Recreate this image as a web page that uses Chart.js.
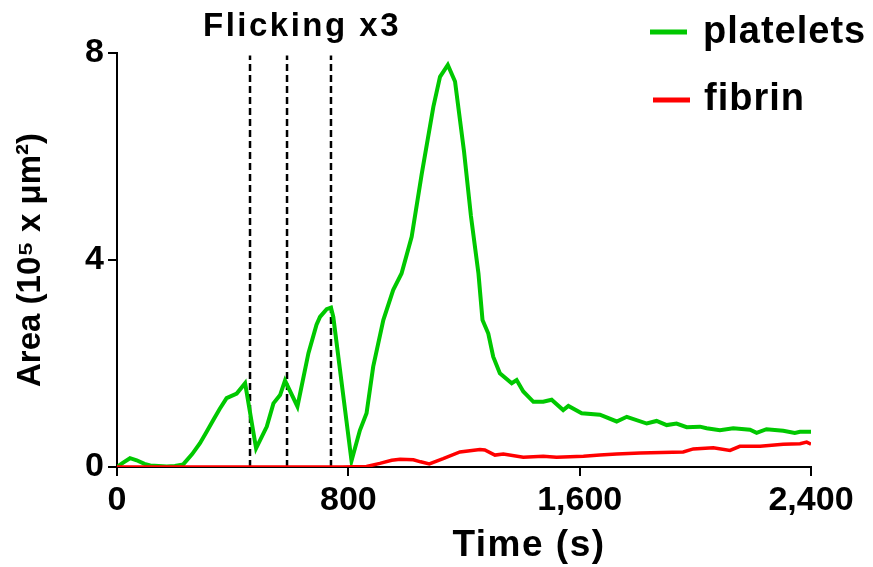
<!DOCTYPE html>
<html>
<head>
<meta charset="utf-8">
<script src="https://cdn.jsdelivr.net/npm/chart.js@4.4.1/dist/chart.umd.min.js"></script>
<style>
  html, body { margin: 0; padding: 0; background: #ffffff; }
  #wrap { width: 873px; height: 567px; position: relative; }
</style>
</head>
<body>
<div id="wrap"><canvas id="c" width="873" height="567"></canvas></div>
<script>
// ---- data ----
const chartTitle = "Flicking x3";
const xAxisTitle = "Time (s)";
const yAxisTitle = "Area (10\u2075 x \u03bcm\u00b2)";
const seriesLabels = ["platelets", "fibrin"];
const xTicks = [0, 800, 1600, 2400];
const yTicks = [0, 4, 8];
const flickTimes = [460, 588, 740];

const plateletTimes = [0, 20, 45, 68, 95, 115, 172, 200, 229, 260, 287, 310, 333, 355, 379, 414, 443,
  481, 518, 541, 564, 581, 624, 662, 690, 702, 725, 740, 748, 811, 840, 863, 886, 921, 955, 984,
  1019, 1054, 1094, 1117, 1144, 1169, 1200, 1224, 1250, 1264, 1284, 1301, 1324, 1365, 1382, 1405,
  1440, 1474, 1503, 1543, 1561, 1607, 1670, 1728, 1763, 1832, 1866, 1901, 1935, 1970, 2016, 2039,
  2085, 2131, 2189, 2212, 2246, 2304, 2344, 2362, 2400];
const plateletValues = [0.0, 0.08, 0.17, 0.13, 0.06, 0.03, 0.01, 0.02, 0.05, 0.25, 0.46, 0.68, 0.91, 1.12, 1.33, 1.42, 1.62,
  0.36, 0.78, 1.23, 1.39, 1.67, 1.17, 2.2, 2.75, 2.9, 3.05, 3.08, 2.9, 0.12, 0.71, 1.04, 1.94, 2.84, 3.42, 3.74,
  4.45, 5.67, 6.96, 7.54, 7.77, 7.45, 6.1, 4.85, 3.74, 2.84, 2.58, 2.13, 1.81, 1.62, 1.68, 1.46,
  1.26, 1.26, 1.30, 1.10, 1.18, 1.04, 1.01, 0.88, 0.97, 0.84, 0.89, 0.81, 0.84, 0.77, 0.78, 0.75,
  0.71, 0.75, 0.72, 0.66, 0.73, 0.70, 0.66, 0.68, 0.68];

const fibrinTimes = [0, 780, 863, 909, 950, 979, 1025, 1050, 1080, 1128, 1186, 1255, 1272, 1307, 1336,
  1405, 1474, 1520, 1613, 1670, 1728, 1809, 1958, 1993, 2062, 2120, 2154, 2224, 2304, 2362, 2385, 2400];
const fibrinValues = [0, 0, 0.01, 0.07, 0.13, 0.15, 0.14, 0.10, 0.06, 0.16, 0.29, 0.34, 0.33, 0.23, 0.25,
  0.19, 0.21, 0.19, 0.21, 0.23, 0.25, 0.27, 0.29, 0.35, 0.37, 0.32, 0.40, 0.40, 0.44, 0.45, 0.48, 0.44];

const GREEN = "rgb(0,200,0)";
const RED = "rgb(255,0,0)";
const FONT = "'Liberation Sans', Arial, Helvetica, sans-serif";

const toPoints = (xs, ys) => xs.map((x, i) => ({ x: x, y: ys[i] }));

const datasets = [
  { label: seriesLabels[0], data: toPoints(plateletTimes, plateletValues), borderColor: GREEN,
    borderWidth: 4, pointRadius: 0, tension: 0, order: 1 },
  { label: seriesLabels[1], data: toPoints(fibrinTimes, fibrinValues), borderColor: RED,
    borderWidth: 3.5, pointRadius: 0, tension: 0, order: 0 }
];
flickTimes.forEach(t => {
  datasets.push({ label: "flick", data: [{ x: t, y: 0 }, { x: t, y: 7.95 }], borderColor: "#000",
    borderWidth: 2.5, borderDash: [7, 4], pointRadius: 0, order: 2 });
});

// custom legend, annotation title and x-axis title, drawn as text on the canvas
const overlay = {
  id: "overlay",
  afterDraw(chart) {
    const ctx = chart.ctx;
    ctx.save();
    ctx.fillStyle = "#000";
    ctx.textBaseline = "alphabetic";
    // title over the flick lines
    ctx.font = "bold 33px " + FONT;
    ctx.letterSpacing = "2.5px";
    ctx.textAlign = "center";
    ctx.fillText(chartTitle, 302, 36);
    // x-axis title (sits right of the axis centre in the reference)
    ctx.font = "bold 37px " + FONT;
    ctx.letterSpacing = "1.5px";
    ctx.fillText(xAxisTitle, 529, 556);
    // legend
    const items = [
      { ds: chart.data.datasets[0], lx: 650, ly: 32, tx: 703, ty: 43 },
      { ds: chart.data.datasets[1], lx: 653, ly: 100, tx: 704, ty: 110 }
    ];
    ctx.font = "bold 38px " + FONT;
    ctx.letterSpacing = "1px";
    ctx.textAlign = "left";
    items.forEach(it => {
      ctx.strokeStyle = it.ds.borderColor;
      ctx.lineWidth = 5;
      ctx.beginPath();
      ctx.moveTo(it.lx, it.ly);
      ctx.lineTo(it.lx + 37, it.ly);
      ctx.stroke();
      ctx.fillStyle = "#000";
      ctx.fillText(it.ds.label, it.tx, it.ty);
    });
    ctx.restore();
  }
};

new Chart(document.getElementById("c"), {
  type: "line",
  data: { datasets: datasets },
  options: {
    responsive: false,
    animation: false,
    layout: { padding: { top: 53, right: 62, left: 0, bottom: 0 } },
    plugins: { legend: { display: false }, tooltip: { enabled: false }, title: { display: false } },
    scales: {
      x: {
        type: "linear", min: 0, max: 2400,
        afterFit: s => { s.height = 100; },
        afterBuildTicks: s => { s.ticks = xTicks.map(v => ({ value: v })); },
        ticks: { color: "#000", padding: 4, maxRotation: 0,
          font: { family: FONT, size: 34, weight: "bold" },
          callback: v => Number(v).toLocaleString("en-US") },
        grid: { display: true, drawOnChartArea: false, drawTicks: true, tickLength: 9, color: "#000", lineWidth: 2 },
        border: { display: true, color: "#000", width: 2 },
        title: { display: false }
      },
      y: {
        type: "linear", min: 0, max: 8,
        afterFit: s => { s.width = 117; },
        afterBuildTicks: s => { s.ticks = yTicks.map(v => ({ value: v })); },
        ticks: { color: "#000", padding: 4,
          font: { family: FONT, size: 34, weight: "bold" } },
        grid: { display: true, drawOnChartArea: false, drawTicks: true, tickLength: 9, color: "#000", lineWidth: 2 },
        border: { display: true, color: "#000", width: 2 },
        title: { display: true, text: yAxisTitle, color: "#000",
          font: { family: FONT, size: 33, weight: "bold" }, padding: { top: 11, bottom: 0 } }
      }
    }
  },
  plugins: [overlay]
});
</script>
</body>
</html>
